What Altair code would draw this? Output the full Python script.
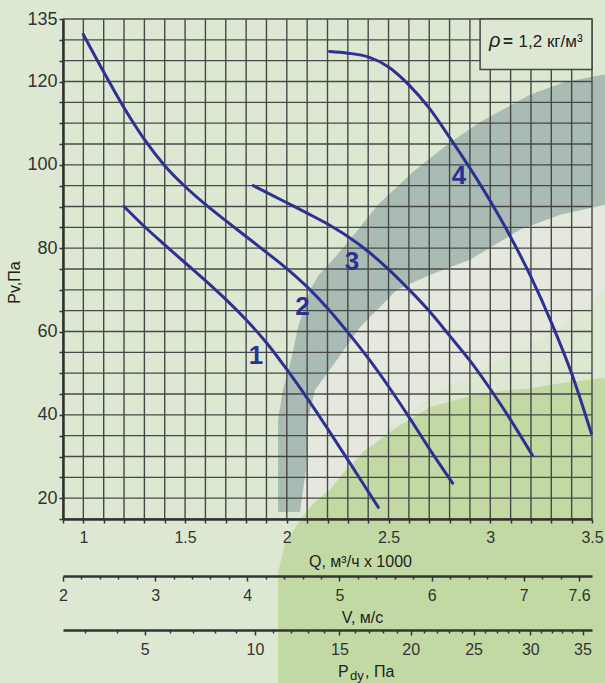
import altair as alt
import pandas as pd

# ---- fan curves: Q (m3/h x 1000) against static pressure Pv (Pa) ----
Q_1 = [1.20, 1.30, 1.40, 1.50, 1.60, 1.70, 1.80, 1.90, 2.00, 2.10, 2.20, 2.30, 2.40, 2.45]
PV_1 = [90.0, 85.2, 80.8, 76.5, 72.2, 67.7, 62.8, 57.3, 50.9, 44.0, 36.7, 29.2, 21.6, 17.8]
Q_2 = [1.00, 1.10, 1.20, 1.30, 1.40, 1.50, 1.60, 1.70, 1.80, 1.90, 2.00, 2.10, 2.20,
       2.30, 2.40, 2.50, 2.60, 2.70, 2.815]
PV_2 = [131.3, 122.3, 113.7, 106.1, 99.8, 94.8, 90.5, 86.6, 82.8, 79.0, 75.1, 70.7, 65.6,
        59.8, 53.6, 46.8, 39.5, 31.9, 23.6]
Q_3 = [1.835, 1.90, 2.00, 2.10, 2.20, 2.30, 2.40, 2.50, 2.60, 2.70, 2.80, 2.90, 3.00, 3.10, 3.207]
PV_3 = [95.0, 93.4, 90.9, 88.4, 85.8, 82.8, 79.2, 74.9, 70.1, 64.9, 59.0, 53.0, 46.2, 38.8, 30.3]
Q_4 = [2.21, 2.30, 2.40, 2.50, 2.60, 2.70, 2.80, 2.90, 3.00, 3.10, 3.20, 3.30, 3.40, 3.497]
PV_4 = [127.2, 126.8, 125.9, 123.5, 119.2, 113.6, 106.6, 99.2, 91.3, 82.7, 73.1, 62.2, 49.9, 35.5]
CURVE_NAMES = ["1", "2", "3", "4"]

# curve number labels (anchor in Q / Pv units)
LABEL_Q = [1.849, 2.077, 2.320, 2.846]
LABEL_PV = [54.1, 65.8, 76.7, 97.3]

# ---- background zones (rows in Pv, left/right edge in Q) ----
BAND_PV = [121.6, 119.9, 116.8, 110.3, 104.8, 98.3, 90.4, 88.0, 84.4, 77.2, 73.6,
           70.0, 61.1, 53.2, 46.0, 38.8, 26.8, 16.7]
BAND_QL = [3.554, 3.367, 3.195, 2.950, 2.787, 2.620, 2.448, 2.409, 2.350, 2.227, 2.158,
           2.114, 2.055, 2.021, 1.981, 1.957, 1.957, 1.957]
BAND_QR = [3.564, 3.564, 3.564, 3.564, 3.564, 3.564, 3.564, 3.343, 3.146, 2.900, 2.704,
           2.542, 2.360, 2.247, 2.139, 2.104, 2.094, 2.065]

HAZE_PV = [90.4, 88.0, 84.4, 77.2, 70.0, 61.1, 53.2, 46.0, 38.8, 26.8, 16.7]
HAZE_QL = [3.564, 3.343, 3.146, 2.900, 2.542, 2.360, 2.247, 2.139, 2.104, 2.094, 2.065]
HAZE_QR = [3.564, 3.564, 3.564, 3.564, 3.564, 3.343, 3.048, 2.753, 2.556, 2.286, 2.139]

GREEN_PV = [48.8, 47.6, 46.4, 45.2, 41.9, 37.1, 31.1, 25.1, 22.0, 18.4, 14.8, 8.8, 2.3, -24.4]
GREEN_QL = [3.539, 3.343, 3.195, 2.950, 2.704, 2.542, 2.374, 2.261, 2.212, 2.124, 2.065,
            1.991, 1.957, 1.957]
GREEN_QR = [3.564] * len(GREEN_PV)

# ---- axis ticks ----
GRID_Q = [round(0.9 + 0.1 * i, 1) for i in range(27)]
GRID_PV = list(range(15, 140, 5))
V_MAJOR = [2, 3, 4, 5, 6, 7, 7.6]
V_MINOR = [round(2 + 0.2 * i, 1) for i in range(29) if round(2 + 0.2 * i, 1) not in V_MAJOR]
PDY_MAJOR = [5, 10, 15, 20, 25, 30, 35]
PDY_MINOR = [p for p in range(3, 36) if p not in PDY_MAJOR]

BG = "#dde8d2"
BAND = "#a9bbb3"
HAZE = "#e5e9dd"
GREEN = "#c3d9a4"
GRID = "#484848"
INK = "#333333"
NAVY = "#2d3192"
FONT = "Liberation Sans"
NARROW = "Liberation Sans Narrow, Liberation Sans"

XS = alt.Scale(domain=[0.9, 3.5], nice=False, zero=False)
YS = alt.Scale(domain=[15, 135], nice=False, zero=False)

Q_AXIS = alt.Axis(
    values=GRID_Q, orient="bottom", grid=False, zindex=1,
    labelExpr="abs(datum.value*2 - round(datum.value*2)) < 0.001 ? format(datum.value, '~g') : ''",
    labelOverlap=False, labelFlush=False, labelFont=FONT, labelFontSize=16, labelColor=INK,
    labelBaseline="middle", labelPadding=14,
    tickSize=4, tickWidth=1.5, tickColor=INK, domainColor=INK, domainWidth=2.5,
    title="Q, м³/ч x 1000", titleFont=FONT, titleFontSize=16, titleFontWeight="normal",
    titleColor="#222", titleX=297, titleY=42, titleBaseline="middle", titleAlign="center",
)
Y_AXIS = alt.Axis(
    values=GRID_PV, orient="left", grid=False, zindex=1,
    labelExpr="(datum.value % 20 == 0 || datum.value == 135) ? datum.value : ''",
    labelOverlap=False, labelFlush=False, labelFont=NARROW, labelFontSize=18, labelColor=INK,
    labelPadding=2, tickSize=4, tickWidth=1.5, tickColor=INK, domainColor=INK, domainWidth=2.5,
    title="Pv,Па", titleFont=FONT, titleFontSize=16, titleFontWeight="normal", titleColor="#222",
    titleAngle=270, titleX=-49, titleY=263, titleBaseline="middle", titleAlign="center",
)


def qx(field, **kw):
    return alt.X(field, scale=XS, axis=Q_AXIS, **kw)


def py(field):
    return alt.Y(field, scale=YS, axis=Y_AXIS)


def zone(pv, ql, qr, color):
    df = pd.DataFrame({"pv": pv, "ql": ql, "qr": qr})
    return alt.Chart(df).mark_area(orient="horizontal", color=color).encode(
        y=py("pv:Q"), x=qx("ql:Q", stack=None), x2="qr:Q"
    )


haze = zone(HAZE_PV, HAZE_QL, HAZE_QR, HAZE)
band = zone(BAND_PV, BAND_QL, BAND_QR, BAND)
green = zone(GREEN_PV, GREEN_QL, GREEN_QR, GREEN)

grid_v = alt.Chart(pd.DataFrame({"q": GRID_Q})).mark_rule(color=GRID, strokeWidth=1.4).encode(
    x=qx("q:Q")
)
grid_h = alt.Chart(pd.DataFrame({"pv": GRID_PV})).mark_rule(color=GRID, strokeWidth=1.4).encode(
    y=py("pv:Q")
)

rows = []
for name, qs, ps in zip(CURVE_NAMES, [Q_1, Q_2, Q_3, Q_4], [PV_1, PV_2, PV_3, PV_4]):
    for q, p in zip(qs, ps):
        rows.append({"curve": name, "q": q, "pv": p})
curves = alt.Chart(pd.DataFrame(rows)).mark_line(
    color=NAVY, strokeWidth=3, interpolate="monotone", strokeCap="round"
).encode(x=qx("q:Q"), y=py("pv:Q"), detail="curve:N")

labels = alt.Chart(pd.DataFrame({"curve": CURVE_NAMES, "q": LABEL_Q, "pv": LABEL_PV})).mark_text(
    font=NARROW, fontSize=26, fontWeight="bold", color=NAVY, align="center", baseline="middle",
).encode(x=qx("q:Q"), y=py("pv:Q"), text="curve:N")

one = alt.Data(values=[{}])
box = alt.Chart(one).mark_rect(fill=BG, stroke="#444444", strokeWidth=1.5).encode(
    x=alt.X(datum=2.95, scale=XS, axis=Q_AXIS),
    x2=alt.datum(3.5),
    y=alt.Y(datum=122.9, scale=YS, axis=Y_AXIS),
    y2=alt.datum(135),
)


def note(text, q, pv, **style):
    return alt.Chart(one).mark_text(text=text, baseline="alphabetic", color="#222", **style).encode(
        x=alt.X(datum=q, scale=XS, axis=Q_AXIS),
        y=alt.Y(datum=pv, scale=YS, axis=Y_AXIS),
    )


rho = note("ρ", 3.022, 128.2, font=FONT, fontSize=20, fontStyle="italic", align="center")
eq = note("=", 3.062, 128.2, font=FONT, fontSize=17, fontWeight="bold", align="left")
dens = note("1,2 кг/м³", 3.139, 128.2, font=FONT, fontSize=17, align="left")


def ptext(text, x, y, size):
    return alt.Chart(one).mark_text(
        text=text, font=FONT, fontSize=size, color="#222", align="left", baseline="middle"
    ).encode(x=alt.value(x), y=alt.value(y))


pdy_title = ptext("P", 275, 653, 16) + ptext("dy", 287, 657, 13) + ptext(", Па", 302, 653, 16)

plot = alt.layer(haze, band, green, grid_v, grid_h, curves, labels, box, rho, eq, dens, pdy_title)


def scale_axis(values, domain, stype, offset, major, title=None, title_x=0, title_y=0):
    ax = dict(orient="bottom", offset=offset, grid=False, zindex=1, values=values,
              tickColor=INK, tickWidth=1.5)
    if major:
        ax.update(tickSize=5, domain=True, domainColor=INK, domainWidth=2.5,
                  labelExpr="format(datum.value, '.2~g')",
                  labelFont=FONT, labelFontSize=16, labelColor=INK, labelBaseline="middle",
                  labelPadding=14, labelOverlap=False, labelFlush=False,
                  title=title, titleFont=FONT, titleFontSize=16, titleFontWeight="normal",
                  titleColor="#222", titleX=title_x, titleY=title_y, titleBaseline="middle",
                  titleAlign="center")
    else:
        ax.update(tickSize=3, domain=False, labels=False, title=None)
    return alt.Chart(pd.DataFrame({"t": values})).mark_point(opacity=0).encode(
        x=alt.X("t:Q", scale=alt.Scale(type=stype, domain=domain, nice=False, zero=False),
                axis=alt.Axis(**ax))
    )


V_DOMAIN = [2, 7.74]
PDY_DOMAIN = [2.4, 35.95]
v_major = scale_axis(V_MAJOR, V_DOMAIN, "linear", 57, True, "V, м/с", 299, 41)
v_minor = scale_axis(V_MINOR, V_DOMAIN, "linear", 57, False)
p_major = scale_axis(PDY_MAJOR, PDY_DOMAIN, "sqrt", 111, True, "")
p_minor = scale_axis(PDY_MINOR, PDY_DOMAIN, "sqrt", 111, False)

chart = alt.layer(plot, v_minor, v_major, p_minor, p_major).resolve_scale(
    x="independent"
).properties(
    width=529, height=500,
    autosize=alt.AutoSizeParams(type="none"),
    padding={"left": 63, "top": 19, "right": 13, "bottom": 164},
    background=BG,
).configure_view(stroke=None)

chart.save("out.html", embed_options={"renderer": "svg", "actions": False})
